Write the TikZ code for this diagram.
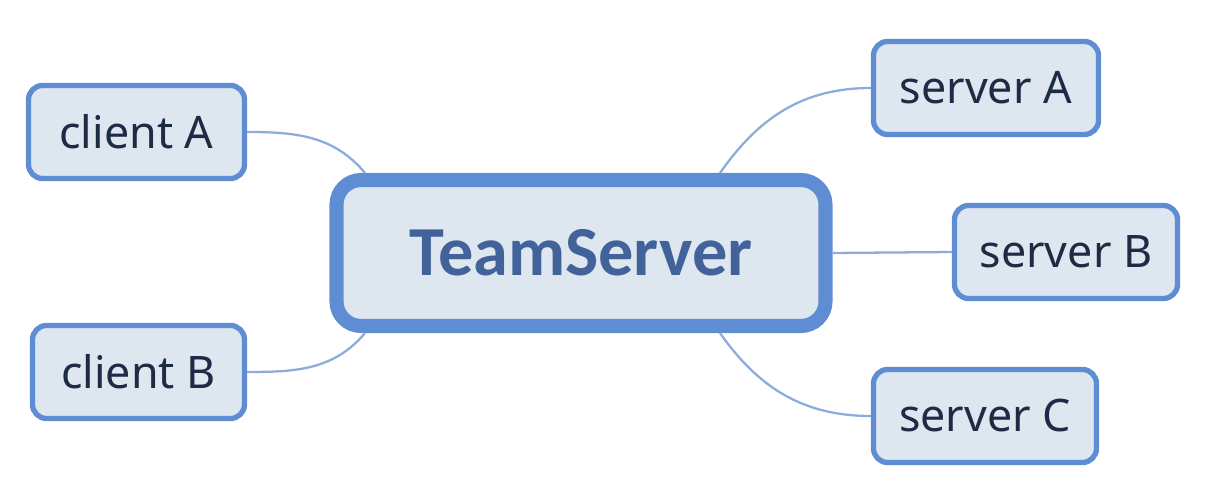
\documentclass[tikz,border=0pt]{standalone}
\usepackage{fontspec}
\setmainfont{Noto Sans}
\newfontfamily\corefont{Carlito}
\usetikzlibrary{positioning}
\definecolor{mapline}{HTML}{5F8DD3}
\definecolor{mapfill}{HTML}{DEE6F0}
\definecolor{mapink}{HTML}{1E2B45}
\definecolor{mapcore}{HTML}{41639A}
\definecolor{mapwire}{HTML}{8EABDE}
\tikzset{
  topicbox/.style={
    rounded corners=8pt,
    draw=mapline,
    fill=mapfill,
    line width=3pt,
    minimum height=1.86cm,
    inner sep=0pt,
    text=mapink,
    font=\fontsize{25.5}{30}\selectfont
  },
  corebox/.style={
    rounded corners=14pt,
    draw=mapline,
    fill=mapfill,
    line width=8pt,
    minimum width=9.78cm,
    minimum height=2.92cm,
    inner sep=0pt,
    text=mapcore,
    font=\corefont\bfseries\fontsize{40}{46}\selectfont
  },
  wire/.style={
    draw=mapwire,
    line width=1.3pt
  }
}

\begin{document}
\begin{tikzpicture}
\useasboundingbox (0,0) rectangle (24.44,9.84);
\node[corebox] (team) at (11.62,4.78) {TeamServer};
\node[topicbox, minimum width=4.32cm] (clientA) at (2.73,7.20) {client A};
\node[topicbox, minimum width=4.24cm] (clientB) at (2.77,2.40) {client B};
\node[topicbox, minimum width=4.50cm] (serverA) at (19.72,8.08) {server A};
\node[topicbox, minimum width=4.46cm] (serverB) at (21.32,4.80) {server B};
\node[topicbox, minimum width=4.46cm] (serverC) at (19.70,1.52) {server C};
% branches
\draw[wire] (clientA.east) to[out=0, in=130] ([xshift=-4.32cm]team.north);
\draw[wire] (clientB.east) to[out=0, in=-130] ([xshift=-4.32cm]team.south);
\draw[wire] ([xshift=2.78cm]team.north) to[out=55, in=180] (serverA.west);
\draw[wire] (team.east) -- (serverB.west);
\draw[wire] ([xshift=2.78cm]team.south) to[out=-55, in=180] (serverC.west);
\end{tikzpicture}
\end{document}
